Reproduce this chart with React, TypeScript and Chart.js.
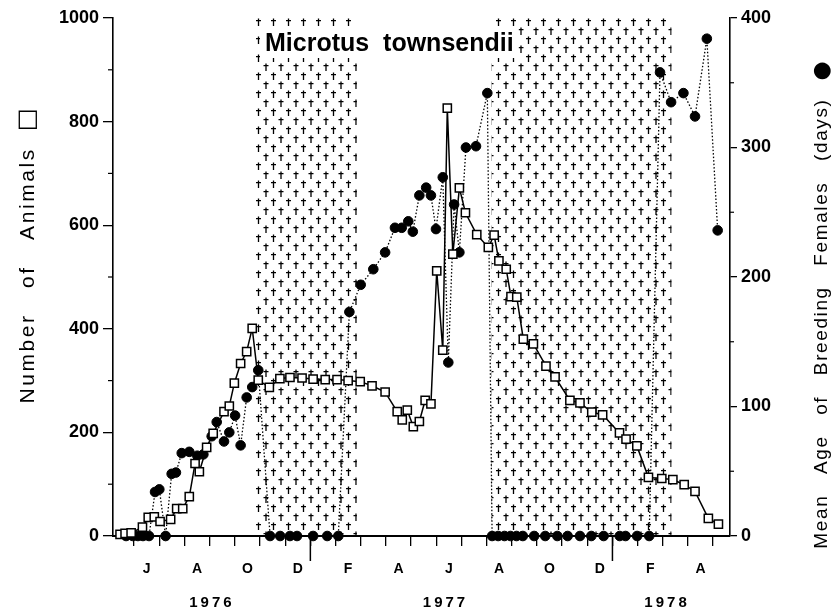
import React, { useEffect, useRef } from 'react';
import { Chart, registerables } from 'chart.js';

Chart.register(...registerables);

// x values are months since 1 Jan 1976 (fractional)
const xMin = 4.16;
const xMax = 28.67;

const squareMonths = [
  4.44, 4.64, 4.88, 5.33, 5.56, 5.80, 6.03, 6.45, 6.69, 6.93,
  7.19, 7.42, 7.59, 7.88, 8.14, 8.57, 8.78, 8.98, 9.23, 9.47,
  9.69, 9.93, 10.37, 10.79, 11.19, 11.67, 12.11, 12.59, 13.06, 13.50,
  13.98, 14.45, 14.97, 15.45, 15.65, 15.85, 16.09, 16.33, 16.56, 16.79,
  17.02, 17.26, 17.44, 17.66, 17.92, 18.16, 18.61, 19.07, 19.30, 19.49,
  19.78, 19.97, 20.20, 20.46, 20.86, 21.36, 21.72, 22.31, 22.71, 23.18,
  23.61, 24.28, 24.54, 24.97, 25.43, 25.96, 26.40, 26.85, 27.28, 27.81,
  28.21,
];
const squareCounts = [
  3, 5, 6, 17, 36, 37, 28, 32, 53, 53,
  76, 140, 124, 171, 198, 240, 251, 295, 333, 356,
  401, 301, 287, 304, 306, 305, 303, 302, 302, 300,
  298, 290, 278, 240, 224, 243, 211, 221, 262, 255,
  512, 359, 826, 544, 672, 624, 582, 557, 581, 531,
  515, 462, 461, 380, 371, 328, 307, 262, 257, 239,
  234, 199, 187, 174, 113, 111, 109, 99, 86, 34,
  23,
];

const circleMonths = [
  4.68, 4.95, 5.15, 5.35, 5.59, 5.83, 6.00, 6.25, 6.49, 6.66,
  6.89, 7.19, 7.51, 7.75, 8.08, 8.28, 8.57, 8.78, 9.01, 9.23,
  9.47, 9.69, 9.93, 10.40, 10.80, 11.19, 11.47, 12.11, 12.67, 13.11,
  13.55, 14.00, 14.50, 14.97, 15.36, 15.63, 15.89, 16.07, 16.33, 16.60,
  16.79, 16.99, 17.26, 17.48, 17.71, 17.92, 18.18, 18.58, 19.03, 19.22,
  19.46, 19.71, 19.95, 20.19, 20.44, 20.89, 21.33, 21.81, 22.22, 22.71,
  23.16, 23.65, 24.29, 24.52, 24.98, 25.46, 25.89, 26.33, 26.82, 27.28,
  27.75, 28.18,
];
const circleAges = [
  0, 0, 0, 0, 0, 34, 36, 0, 48, 49,
  64, 65, 62, 63, 77, 88, 73, 80, 93, 70,
  107, 115, 128, 0, 0, 0, 0, 0, 0, 0,
  173, 194, 206, 219, 238, 238, 243, 235, 263, 269,
  263, 237, 277, 134, 256, 219, 300, 301, 342, 0,
  0, 0, 0, 0, 0, 0, 0, 0, 0, 0,
  0, 0, 0, 0, 0, 0, 358, 335, 342, 324,
  384, 236,
];

const monthBoundaries = [5, 6, 7, 8, 9, 10, 11, 12, 13, 14, 15, 16, 17, 18, 19, 20, 21, 22, 23, 24, 25, 26, 27, 28];
const monthLabelPositions = [5.5, 7.5, 9.5, 11.5, 13.5, 15.5, 17.5, 19.5, 21.5, 23.5, 25.5, 27.5];
const monthLabels = ['J', 'A', 'O', 'D', 'F', 'A', 'J', 'A', 'O', 'D', 'F', 'A'];
const yearBoundaries = [12, 24];
const yearLabels = ['1976', '1977', '1978'];
const yearLabelPositions = [8.03, 17.31, 26.11];
const shadedStarts = [9.8, 19.2];
const shadedEnds = [13.85, 26.35];
const leftMinorTicks = [100, 300, 500, 700, 900];
const rightMinorTicks = [50, 150, 250, 350];

const titleText = 'Microtus  townsendii';
const leftTitle = 'Number   of   Animals';
const leftSymbol = '\u25A1';
const rightTitle = 'Mean   Age   of   Breeding   Females   (days)';
const rightSymbol = '\u25CF';

const FONT = '"Liberation Sans", Arial, "DejaVu Sans", sans-serif';

function makeCrossPattern(ctx: CanvasRenderingContext2D) {
  const tile = document.createElement('canvas');
  tile.width = 15;
  tile.height = 18;
  const t = tile.getContext('2d')!;
  t.strokeStyle = '#000';
  t.lineWidth = 1.3;
  const dagger = (cx: number, cy: number) => {
    t.beginPath();
    t.moveTo(cx, cy);
    t.lineTo(cx, cy + 7.5);
    t.moveTo(cx - 2.5, cy + 2.2);
    t.lineTo(cx + 2.5, cy + 2.2);
    t.stroke();
  };
  dagger(3.5, 0.5);
  dagger(11, 9.5);
  return ctx.createPattern(tile, 'repeat');
}

function drawRotatedTitle(
  ctx: CanvasRenderingContext2D,
  cx: number,
  cy: number,
  text: string,
  symbol: string,
  textFont: string,
  symbolFont: string,
  spacing: number,
  gap: number,
) {
  ctx.save();
  ctx.translate(cx, cy);
  ctx.rotate(-Math.PI / 2);
  ctx.fillStyle = '#000';
  ctx.textBaseline = 'middle';
  ctx.textAlign = 'left';
  ctx.font = textFont;
  (ctx as any).letterSpacing = `${spacing}px`;
  const tw = ctx.measureText(text).width;
  ctx.font = symbolFont;
  (ctx as any).letterSpacing = '0px';
  const sw = ctx.measureText(symbol).width;
  const total = tw + gap + sw;
  const start = -total / 2;
  ctx.font = textFont;
  (ctx as any).letterSpacing = `${spacing}px`;
  ctx.fillText(text, start, 0);
  ctx.font = symbolFont;
  (ctx as any).letterSpacing = '0px';
  ctx.fillText(symbol, start + tw + gap, 0);
  ctx.restore();
}

const decorPlugin = {
  id: 'decor',
  beforeDatasetsDraw(chart: any) {
    const { ctx, chartArea, scales } = chart;
    const xs = scales.x;
    const pattern = makeCrossPattern(ctx);
    ctx.save();
    ctx.fillStyle = pattern;
    for (let i = 0; i < shadedStarts.length; i++) {
      const x1 = xs.getPixelForValue(shadedStarts[i]);
      const x2 = xs.getPixelForValue(shadedEnds[i]);
      ctx.fillRect(x1, chartArea.top, x2 - x1, chartArea.bottom - chartArea.top);
    }
    // title with white backing
    ctx.font = `bold 25px ${FONT}`;
    const tx = chartArea.left + 152;
    const ty = chartArea.top + 33;
    const w = ctx.measureText(titleText).width;
    ctx.fillStyle = '#fff';
    ctx.fillRect(tx - 5, ty - 24, w + 10, 31);
    ctx.fillStyle = '#000';
    ctx.textBaseline = 'alphabetic';
    ctx.textAlign = 'left';
    ctx.fillText(titleText, tx, ty);
    ctx.restore();
  },
  afterDraw(chart: any) {
    const { ctx, chartArea, scales } = chart;
    const xs = scales.x;
    const yl = scales.y;
    const yr = scales.y1;
    ctx.save();
    ctx.strokeStyle = '#000';
    ctx.lineWidth = 1.5;
    // long year ticks
    for (const v of yearBoundaries) {
      const px = xs.getPixelForValue(v);
      ctx.beginPath();
      ctx.moveTo(px, chartArea.bottom);
      ctx.lineTo(px, chartArea.bottom + 25);
      ctx.stroke();
    }
    // minor ticks
    ctx.lineWidth = 1.2;
    for (const v of leftMinorTicks) {
      const py = yl.getPixelForValue(v);
      ctx.beginPath();
      ctx.moveTo(chartArea.left - 5, py);
      ctx.lineTo(chartArea.left, py);
      ctx.stroke();
    }
    for (const v of rightMinorTicks) {
      const py = yr.getPixelForValue(v);
      ctx.beginPath();
      ctx.moveTo(chartArea.right, py);
      ctx.lineTo(chartArea.right + 4, py);
      ctx.stroke();
    }
    // year labels
    ctx.fillStyle = '#000';
    ctx.font = `bold 15px ${FONT}`;
    (ctx as any).letterSpacing = '3px';
    ctx.textAlign = 'center';
    ctx.textBaseline = 'middle';
    for (let i = 0; i < yearLabels.length; i++) {
      ctx.fillText(yearLabels[i], xs.getPixelForValue(yearLabelPositions[i]) + 1.5, 603);
    }
    (ctx as any).letterSpacing = '0px';
    ctx.restore();

    // axis titles
    drawRotatedTitle(ctx, 28, 256, leftTitle, leftSymbol, `21px ${FONT}`, `24px "DejaVu Sans", ${FONT}`, 2.6, 16);
    drawRotatedTitle(ctx, 822, 305, rightTitle, rightSymbol, `19px ${FONT}`, `22px "DejaVu Sans", ${FONT}`, 1.6, 18);
  },
};

export default function App() {
  const canvasRef = useRef<HTMLCanvasElement | null>(null);

  useEffect(() => {
    const canvas = canvasRef.current;
    if (!canvas) return;
    const squares = squareMonths.map((m, i) => ({ x: m, y: squareCounts[i] }));
    const circles = circleMonths.map((m, i) => ({ x: m, y: circleAges[i] }));

    const chart = new Chart(canvas, {
      type: 'line',
      data: {
        datasets: [
          {
            label: 'Mean age of breeding females',
            data: circles,
            xAxisID: 'x',
            yAxisID: 'y1',
            borderColor: '#000',
            borderWidth: 1.3,
            borderDash: [1.5, 2],
            pointStyle: 'circle',
            pointRadius: 4.8,
            pointBackgroundColor: '#000',
            pointBorderColor: '#000',
            pointBorderWidth: 1,
            tension: 0,
            clip: false as any,
            order: 2,
          },
          {
            label: 'Number of animals',
            data: squares,
            xAxisID: 'x',
            yAxisID: 'y',
            borderColor: '#000',
            borderWidth: 1.5,
            pointStyle: 'rect',
            pointRadius: 5.8,
            pointBackgroundColor: '#fff',
            pointBorderColor: '#000',
            pointBorderWidth: 1.5,
            tension: 0,
            clip: false as any,
            order: 1,
          },
        ],
      },
      options: {
        responsive: false,
        animation: false,
        devicePixelRatio: 1,
        layout: { padding: { top: 18, left: 0, right: 0, bottom: 0 } },
        plugins: {
          legend: { display: false },
          tooltip: { enabled: false },
        },
        scales: {
          x: {
            type: 'linear',
            position: 'bottom',
            min: xMin,
            max: xMax,
            weight: 0,
            afterBuildTicks: (axis: any) => {
              axis.ticks = monthBoundaries.map((v) => ({ value: v }));
            },
            afterFit: (axis: any) => {
              axis.height = 10;
            },
            ticks: { display: false },
            grid: {
              display: true,
              drawOnChartArea: false,
              drawTicks: true,
              tickLength: 10,
              color: '#000',
              lineWidth: 1.3,
            },
            border: { display: true, color: '#000', width: 2 },
          },
          x2: {
            type: 'linear',
            position: 'bottom',
            min: xMin,
            max: xMax,
            weight: 1,
            afterBuildTicks: (axis: any) => {
              axis.ticks = monthLabelPositions.map((v) => ({ value: v }));
            },
            afterFit: (axis: any) => {
              axis.height = 67;
            },
            ticks: {
              autoSkip: false,
              maxRotation: 0,
              padding: 15,
              color: '#000',
              font: { family: FONT, size: 14, weight: 'bold' },
              callback: (_v: any, i: number) => monthLabels[i],
            },
            grid: { display: false, drawTicks: false },
            border: { display: false },
          },
          y: {
            type: 'linear',
            position: 'left',
            min: 0,
            max: 1000,
            afterFit: (axis: any) => {
              axis.width = 113;
            },
            ticks: {
              stepSize: 200,
              padding: 4,
              color: '#000',
              font: { family: FONT, size: 18, weight: 'bold' },
              callback: (v: any) => String(v),
            },
            grid: {
              display: true,
              drawOnChartArea: false,
              drawTicks: true,
              tickLength: 10,
              color: '#000',
              lineWidth: 1.3,
            },
            border: { display: true, color: '#000', width: 1.6 },
          },
          y1: {
            type: 'linear',
            position: 'right',
            min: 0,
            max: 400,
            afterFit: (axis: any) => {
              axis.width = 103;
            },
            ticks: {
              stepSize: 100,
              padding: 4,
              color: '#000',
              font: { family: FONT, size: 18, weight: 'bold' },
              callback: (v: any) => String(v),
            },
            grid: {
              display: true,
              drawOnChartArea: false,
              drawTicks: true,
              tickLength: 7,
              color: '#000',
              lineWidth: 1.3,
            },
            border: { display: true, color: '#000', width: 1.6 },
          },
        },
      } as any,
      plugins: [decorPlugin],
    });

    return () => {
      chart.destroy();
    };
  }, []);

  return (
    <div style={{ position: 'fixed', left: 0, top: 0, width: 833, height: 613, background: '#fff' }}>
      <canvas ref={canvasRef} width={833} height={613} style={{ width: 833, height: 613, display: 'block' }} />
    </div>
  );
}
